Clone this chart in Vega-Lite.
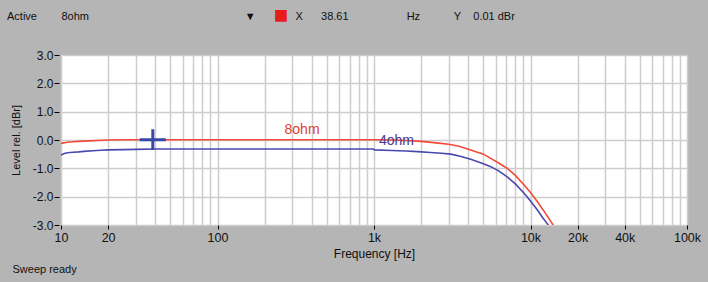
{
  "$schema": "https://vega.github.io/schema/vega-lite/v6.json",
  "width": 626,
  "height": 170,
  "autosize": {"type": "none"},
  "padding": {"left": 61, "top": 55, "right": 21, "bottom": 57},
  "background": "#b5b5b5",
  "config": {"view": {"fill": "white", "stroke": null}, "font": "Liberation Sans"},
  "title": {
    "text": "Active\u00a0\u00a0\u00a0\u00a0\u00a0\u00a0\u00a0\u00a08ohm\u00a0\u00a0\u00a0\u00a0\u00a0\u00a0\u00a0\u00a0\u00a0\u00a0\u00a0\u00a0\u00a0\u00a0\u00a0\u00a0\u00a0\u00a0\u00a0\u00a0\u00a0\u00a0\u00a0\u00a0\u00a0\u00a0\u00a0\u00a0\u00a0\u00a0\u00a0\u00a0\u00a0\u00a0\u00a0\u00a0\u00a0\u00a0\u00a0\u00a0\u00a0\u00a0\u00a0\u00a0\u00a0\u00a0\u00a0\u00a0\u00a0\u00a0\u00a0\u25bc\u00a0\u00a0\u00a0\u00a0\u00a0\u00a0\u00a0\u00a0\u00a0\u00a0\u00a0\u00a0\u00a0X\u00a0\u00a0\u00a0\u00a0\u00a0\u00a038.61\u00a0\u00a0\u00a0\u00a0\u00a0\u00a0\u00a0\u00a0\u00a0\u00a0\u00a0\u00a0\u00a0\u00a0\u00a0\u00a0\u00a0\u00a0\u00a0Hz\u00a0\u00a0\u00a0\u00a0\u00a0\u00a0\u00a0\u00a0\u00a0\u00a0\u00a0Y\u00a0\u00a0\u00a0\u00a00.01 dBr",
    "subtitle": "\u200b\u00a0\u00a0\u00a0\u00a0\u00a0\u00a0\u00a0\u00a0\u00a0\u00a0\u00a0\u00a0\u00a0\u00a0\u00a0\u00a0\u00a0\u00a0\u00a0\u00a0\u00a0\u00a0\u00a0\u00a0\u00a0\u00a0\u00a0\u00a0\u00a0\u00a0\u00a0\u00a0\u00a0\u00a0\u00a0\u00a0\u00a0\u00a0\u00a0\u00a0\u25a0",
    "anchor": "start",
    "frame": "group",
    "dx": -54,
    "fontSize": 11,
    "fontWeight": "normal",
    "color": "#101010",
    "subtitleFontSize": 24,
    "subtitleColor": "#e41c1c",
    "subtitlePadding": -18,
    "offset": 14
  },
  "datasets": {
    "curves": [
      {"series": "8ohm", "freq": 10, "level": -0.12},
      {"series": "8ohm", "freq": 11, "level": -0.08},
      {"series": "8ohm", "freq": 12, "level": -0.06},
      {"series": "8ohm", "freq": 13, "level": -0.05},
      {"series": "8ohm", "freq": 15, "level": -0.03},
      {"series": "8ohm", "freq": 17, "level": -0.02},
      {"series": "8ohm", "freq": 20, "level": 0.0},
      {"series": "8ohm", "freq": 25, "level": 0.01},
      {"series": "8ohm", "freq": 38.61, "level": 0.01},
      {"series": "8ohm", "freq": 100, "level": 0.01},
      {"series": "8ohm", "freq": 300, "level": 0.01},
      {"series": "8ohm", "freq": 1000, "level": 0.01},
      {"series": "8ohm", "freq": 1300, "level": 0.0},
      {"series": "8ohm", "freq": 1600, "level": -0.02},
      {"series": "8ohm", "freq": 2000, "level": -0.05},
      {"series": "8ohm", "freq": 2500, "level": -0.1},
      {"series": "8ohm", "freq": 3000, "level": -0.15},
      {"series": "8ohm", "freq": 3500, "level": -0.22},
      {"series": "8ohm", "freq": 4150, "level": -0.35},
      {"series": "8ohm", "freq": 5000, "level": -0.5},
      {"series": "8ohm", "freq": 5570, "level": -0.65},
      {"series": "8ohm", "freq": 6300, "level": -0.82},
      {"series": "8ohm", "freq": 7100, "level": -1.0},
      {"series": "8ohm", "freq": 8000, "level": -1.25},
      {"series": "8ohm", "freq": 9100, "level": -1.59},
      {"series": "8ohm", "freq": 10000, "level": -1.85},
      {"series": "8ohm", "freq": 11070, "level": -2.18},
      {"series": "8ohm", "freq": 12500, "level": -2.6},
      {"series": "8ohm", "freq": 13800, "level": -2.96},
      {"series": "8ohm", "freq": 14200, "level": -3.1},
      {"series": "4ohm", "freq": 10, "level": -0.53},
      {"series": "4ohm", "freq": 10.5, "level": -0.48},
      {"series": "4ohm", "freq": 11, "level": -0.45},
      {"series": "4ohm", "freq": 12, "level": -0.43},
      {"series": "4ohm", "freq": 13, "level": -0.42},
      {"series": "4ohm", "freq": 14, "level": -0.4},
      {"series": "4ohm", "freq": 16, "level": -0.38},
      {"series": "4ohm", "freq": 18, "level": -0.36},
      {"series": "4ohm", "freq": 20, "level": -0.35},
      {"series": "4ohm", "freq": 25, "level": -0.34},
      {"series": "4ohm", "freq": 30, "level": -0.33},
      {"series": "4ohm", "freq": 40, "level": -0.32},
      {"series": "4ohm", "freq": 100, "level": -0.32},
      {"series": "4ohm", "freq": 500, "level": -0.32},
      {"series": "4ohm", "freq": 990, "level": -0.32},
      {"series": "4ohm", "freq": 1010, "level": -0.35},
      {"series": "4ohm", "freq": 1300, "level": -0.37},
      {"series": "4ohm", "freq": 1600, "level": -0.39},
      {"series": "4ohm", "freq": 1900, "level": -0.41},
      {"series": "4ohm", "freq": 2300, "level": -0.44},
      {"series": "4ohm", "freq": 2700, "level": -0.47},
      {"series": "4ohm", "freq": 3100, "level": -0.5},
      {"series": "4ohm", "freq": 3600, "level": -0.58},
      {"series": "4ohm", "freq": 4150, "level": -0.68},
      {"series": "4ohm", "freq": 5000, "level": -0.84},
      {"series": "4ohm", "freq": 5570, "level": -0.94},
      {"series": "4ohm", "freq": 6300, "level": -1.1},
      {"series": "4ohm", "freq": 7100, "level": -1.3},
      {"series": "4ohm", "freq": 8000, "level": -1.55},
      {"series": "4ohm", "freq": 9100, "level": -1.88},
      {"series": "4ohm", "freq": 10000, "level": -2.15},
      {"series": "4ohm", "freq": 11070, "level": -2.47},
      {"series": "4ohm", "freq": 12000, "level": -2.75},
      {"series": "4ohm", "freq": 12830, "level": -2.96},
      {"series": "4ohm", "freq": 13300, "level": -3.1}
    ],
    "labels": [
      {"label": "8ohm", "freq": 347, "level": 0.35},
      {"label": "4ohm", "freq": 1393, "level": -0.05}
    ],
    "cursor": [
      {"freq": 38.61, "level": 0.01}
    ]
  },
  "layer": [
    {
      "layer": [
        {
          "data": {"name": "curves"},
          "mark": {"type": "line", "strokeWidth": 1.6, "clip": true},
          "encoding": {
            "x": {
              "field": "freq", "type": "quantitative",
              "scale": {"type": "log", "domain": [10, 100000], "nice": false},
              "axis": {
                "values": [10,20,30,40,50,60,70,80,90,100,200,300,400,500,600,700,800,900,1000,2000,3000,4000,5000,6000,7000,8000,9000,10000,20000,30000,40000,50000,60000,70000,80000,90000,100000],
                "tickCount": 60,
                "grid": true, "gridColor": "#cdcdcd", "gridWidth": 1.5,
                "domain": false,
                "tickSize": 4, "tickColor": "#000000", "tickWidth": 1,
                "tickOpacity": {"condition": {"test": "indexof([10,20,100,1000,10000,20000,40000,100000], datum.value) >= 0", "value": 1}, "value": 0},
                "labelExpr": "indexof([10,20,100,1000,10000,20000,40000,100000], datum.value) >= 0 ? (datum.value >= 1000 ? (datum.value / 1000) + 'k' : '' + datum.value) : ''",
                "labelOverlap": false, "labelFlush": false, "labelBound": false,
                "labelFontSize": 12.5, "labelColor": "#101010", "labelPadding": 2,
                "title": "Frequency [Hz]", "titleFontSize": 12, "titleFontWeight": "normal",
                "titleColor": "#101010", "titlePadding": 5
              }
            },
            "y": {
              "field": "level", "type": "quantitative",
              "scale": {"domain": [-3, 3], "nice": false, "zero": false},
              "axis": {
                "values": [-3, -2, -1, 0, 1, 2, 3],
                "tickCount": 10,
                "labelExpr": "datum.value + '.0'",
                "labelOverlap": false, "labelBound": false, "labelFlush": false,
                "grid": true, "gridColor": "#cdcdcd", "gridWidth": 1.5,
                "domain": false,
                "tickSize": 5, "tickColor": "#000000", "offset": 2,
                "labelFontSize": 12, "labelPadding": 1, "labelColor": "#101010",
                "title": "Level rel. [dBr]", "titleFontSize": 11, "titleFontWeight": "normal",
                "titleColor": "#101010", "titlePadding": 11
              }
            },
            "color": {
              "field": "series", "type": "nominal",
              "scale": {"domain": ["8ohm", "4ohm"], "range": ["#f24a36", "#4848b0"]},
              "legend": null
            }
          }
        },
        {
          "data": {"name": "labels"},
          "mark": {"type": "text", "fontSize": 14},
          "encoding": {
            "x": {"field": "freq", "type": "quantitative"},
            "y": {"field": "level", "type": "quantitative"},
            "text": {"field": "label"},
            "color": {"condition": {"test": "datum.label === '8ohm'", "value": "#e0402c"}, "value": "#4a3a8c"}
          }
        },
        {
          "data": {"name": "cursor"},
          "mark": {"type": "point", "shape": "circle", "size": 8, "filled": true, "color": "#e88080", "opacity": 1},
          "encoding": {
            "x": {"field": "freq", "type": "quantitative"},
            "y": {"field": "level", "type": "quantitative"}
          }
        }
      ]
    },
    {
      "data": {"name": "cursor"},
      "mark": {"type": "point", "shape": "M-1,0L1,0M0,-0.8L0,0.8", "size": 676, "filled": false, "stroke": "#3848a8", "strokeWidth": 3, "opacity": 1},
      "encoding": {
        "x": {"field": "freq", "type": "quantitative"},
        "y": {
          "field": "level", "type": "quantitative",
          "axis": {
            "orient": "right", "labels": false, "ticks": false, "domain": false, "grid": false,
            "title": "Sweep ready", "titleAngle": 0, "titleAlign": "left", "titleBaseline": "alphabetic",
            "titleX": -675, "titleY": 217, "titleFontSize": 11, "titleFontWeight": "normal", "titleColor": "#101010"
          }
        }
      }
    }
  ],
  "resolve": {"axis": {"y": "independent"}}
}
